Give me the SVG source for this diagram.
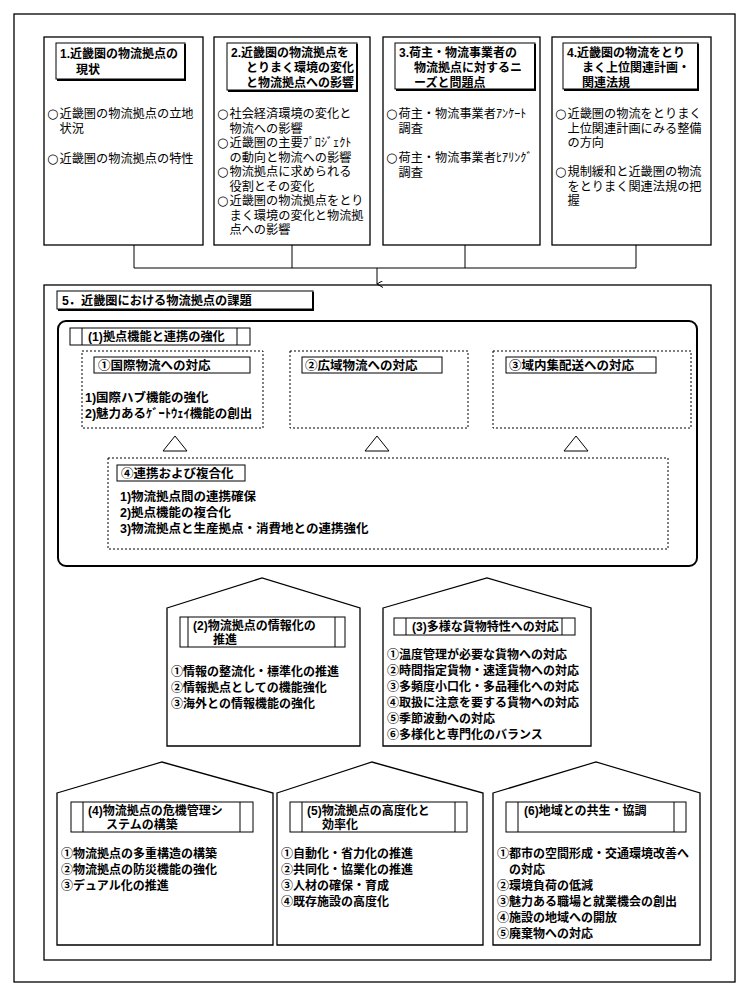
<svg xmlns="http://www.w3.org/2000/svg" width="750" height="997" viewBox="0 0 750 997">
<style>
.fr{fill:none;stroke:#000;stroke-width:1.3}
.th{fill:none;stroke:#000;stroke-width:2}
.dt{fill:none;stroke:#000;stroke-width:1;stroke-dasharray:2 2}
.ln{fill:none;stroke:#000;stroke-width:1}
.t{font-family:"Liberation Sans","Noto Sans CJK JP","Noto Sans CJK SC",sans-serif;font-size:12.2px;fill:#000}
.b{font-weight:bold}
.m{font-size:12.5px}
.h{font-size:12px}
.k{font-size:12px}
.c{font-family:"DejaVu Sans",sans-serif;font-size:13px}
</style>
<defs>
<marker id="ah" markerWidth="7" markerHeight="7" refX="3.5" refY="6" orient="auto" markerUnits="userSpaceOnUse"><path d="M0,0 L3.5,6 L7,0" fill="none" stroke="#000" stroke-width="1"/></marker>
</defs>
<rect width="750" height="997" fill="#fff"/>
<rect x="14" y="14" width="721" height="968" class="fr"/>

<g id="box1">
<rect x="44" y="37" width="159" height="208" class="fr"/>
<rect x="56" y="43" width="129" height="36" class="ln"/>
<path d="M185,44 V80 H57" class="th"/>
<text class="t b k"><tspan x="60" y="58">1.近畿圏の物流拠点の</tspan><tspan x="76" y="74">現状</tspan></text>
<text class="t"><tspan class="c" x="47" y="118">○</tspan><tspan x="59.5">近畿圏の物流拠点の立地</tspan><tspan x="59.5" y="132.5">状況</tspan><tspan class="c" x="47" y="163">○</tspan><tspan x="59.5">近畿圏の物流拠点の特性</tspan></text>
</g>

<g id="box2">
<rect x="214" y="37" width="156" height="208" class="fr"/>
<rect x="227" y="43" width="130" height="47" class="ln"/>
<path d="M357,44 V91 H228" class="th"/>
<text class="t b k"><tspan x="231" y="57">2.近畿圏の物流拠点を</tspan><tspan x="246" y="72">とりまく環境の変化</tspan><tspan x="246" y="86.5">と物流拠点への影響</tspan></text>
<text class="t"><tspan class="c" x="217" y="118">○</tspan><tspan x="229.5">社会経済環境の変化と</tspan><tspan x="229.5" y="132.5">物流への影響</tspan><tspan class="c" x="217" y="147">○</tspan><tspan x="229.5">近畿圏の主要ﾌﾟﾛｼﾞｪｸﾄ</tspan><tspan x="229.5" y="161.5">の動向と物流への影響</tspan><tspan class="c" x="217" y="176">○</tspan><tspan x="229.5">物流拠点に求められる</tspan><tspan x="229.5" y="190.5">役割とその変化</tspan><tspan class="c" x="217" y="205">○</tspan><tspan x="229.5">近畿圏の物流拠点をとり</tspan><tspan x="229.5" y="219.5">まく環境の変化と物流拠</tspan><tspan x="229.5" y="234">点への影響</tspan></text>
</g>

<g id="box3">
<rect x="383" y="37" width="157" height="208" class="fr"/>
<rect x="395" y="43" width="140" height="46" class="ln"/>
<path d="M535,44 V90 H396" class="th"/>
<text class="t b k"><tspan x="399" y="57">3.荷主・物流事業者の</tspan><tspan x="414" y="72">物流拠点に対するニ</tspan><tspan x="414" y="86.5">ーズと問題点</tspan></text>
<text class="t"><tspan class="c" x="386" y="118">○</tspan><tspan x="398.5">荷主・物流事業者ｱﾝｹｰﾄ</tspan><tspan x="398.5" y="132.5">調査</tspan><tspan class="c" x="386" y="162">○</tspan><tspan x="398.5">荷主・物流事業者ﾋｱﾘﾝｸﾞ</tspan><tspan x="398.5" y="176.5">調査</tspan></text>
</g>

<g id="box4">
<rect x="552" y="37" width="159" height="208" class="fr"/>
<rect x="563" y="43" width="135" height="46" class="ln"/>
<path d="M698,44 V90 H564" class="th"/>
<text class="t b k"><tspan x="567" y="57">4.近畿圏の物流をとり</tspan><tspan x="582" y="72">まく上位関連計画・</tspan><tspan x="582" y="86.5">関連法規</tspan></text>
<text class="t"><tspan class="c" x="555" y="118">○</tspan><tspan x="567.5">近畿圏の物流をとりまく</tspan><tspan x="567.5" y="132.5">上位関連計画にみる整備</tspan><tspan x="567.5" y="147">の方向</tspan><tspan class="c" x="555" y="176">○</tspan><tspan x="567.5">規制緩和と近畿圏の物流</tspan><tspan x="567.5" y="190.5">をとりまく関連法規の把</tspan><tspan x="567.5" y="205">握</tspan></text>
</g>

<g id="connectors">
<path d="M134,245 V268 M292,245 V268 M465,245 V268 M636,245 V268 M134,268 H636" class="ln"/>
<path d="M377,268 V284" class="ln" marker-end="url(#ah)"/>
</g>

<g id="sec5">
<rect x="44" y="285" width="667" height="675" class="fr"/>
<rect x="57" y="291" width="256" height="18" class="ln"/>
<path d="M313,292 V310 H58" class="th"/>
<text class="t b" x="62" y="305">5．近畿圏における物流拠点の課題</text>
</g>

<g id="sec1">
<rect x="58" y="321" width="639" height="245" rx="8" class="th"/>
<rect x="70" y="328" width="180" height="17" class="ln"/>
<path d="M82,328 V345 M237,328 V345" class="ln"/>
<text class="t b" x="88" y="341">(1)拠点機能と連携の強化</text>
</g>

<g id="s1a">
<rect x="82" y="351" width="181" height="77" class="dt"/>
<rect x="94" y="357" width="156" height="16" class="ln"/>
<text class="t b m" x="98" y="369.5">①国際物流への対応</text>
<text class="t b m"><tspan x="85" y="402">1)国際ハブ機能の強化</tspan><tspan x="85" y="418">2)魅力あるｹﾞｰﾄｳｪｲ機能の創出</tspan></text>
</g>
<g id="s1b">
<rect x="290" y="351" width="178" height="77" class="dt"/>
<rect x="302" y="357" width="140" height="16" class="ln"/>
<text class="t b m" x="305" y="369.5">②広域物流への対応</text>
</g>
<g id="s1c">
<rect x="493" y="351" width="198" height="77" class="dt"/>
<rect x="506" y="357" width="150" height="16" class="ln"/>
<text class="t b m" x="509" y="369.5">③域内集配送への対応</text>
</g>
<g id="triangles">
<path d="M175,436 L187,451 L163,451 Z M377,436 L389,451 L365,451 Z M576,436 L588,451 L564,451 Z" class="ln"/>
</g>
<g id="s1d">
<rect x="108" y="458" width="560" height="91" class="dt"/>
<rect x="117" y="465" width="128" height="16" class="ln"/>
<text class="t b m" x="121" y="477.5">④連携および複合化</text>
<text class="t b m"><tspan x="120" y="501">1)物流拠点間の連携確保</tspan><tspan x="120" y="517">2)拠点機能の複合化</tspan><tspan x="120" y="533">3)物流拠点と生産拠点・消費地との連携強化</tspan></text>
</g>

<g id="h2">
<path d="M167,608 L262,578 L360,608 V746 H167 Z" class="fr"/>
<rect x="180" y="617" width="165" height="30" class="ln"/>
<path d="M188,617 V647 M335,617 V647" class="ln"/>
<text class="t b h"><tspan x="193" y="630">(2)物流拠点の情報化の</tspan><tspan x="213" y="644">推進</tspan></text>
<text class="t b h"><tspan x="171" y="676">①情報の整流化・標準化の推進</tspan><tspan x="171" y="692">②情報拠点としての機能強化</tspan><tspan x="171" y="708">③海外との情報機能の強化</tspan></text>
</g>

<g id="h3">
<path d="M383,608 L487,578 L591,608 V746 H383 Z" class="fr"/>
<rect x="394" y="618" width="181" height="17" class="ln"/>
<path d="M406,618 V635 M562,618 V635" class="ln"/>
<text class="t b h" x="412" y="631">(3)多様な貨物特性への対応</text>
<text class="t b h"><tspan x="387" y="659">①温度管理が必要な貨物への対応</tspan><tspan x="387" y="675">②時間指定貨物・速達貨物への対応</tspan><tspan x="387" y="691">③多頻度小口化・多品種化への対応</tspan><tspan x="387" y="707">④取扱に注意を要する貨物への対応</tspan><tspan x="387" y="723">⑤季節波動への対応</tspan><tspan x="387" y="739">⑥多様化と専門化のバランス</tspan></text>
</g>

<g id="h4">
<path d="M57,793 L162,762 L273,793 V945 H57 Z" class="fr"/>
<rect x="71" y="802" width="182" height="30" class="ln"/>
<path d="M83,802 V832 M240,802 V832" class="ln"/>
<text class="t b h"><tspan x="88" y="815">(4)物流拠点の危機管理シ</tspan><tspan x="106" y="829">ステムの構築</tspan></text>
<text class="t b h"><tspan x="61" y="858">①物流拠点の多重構造の構築</tspan><tspan x="61" y="874">②物流拠点の防災機能の強化</tspan><tspan x="61" y="890">③デュアル化の推進</tspan></text>
</g>

<g id="h5">
<path d="M277,793 L372,762 L483,793 V945 H277 Z" class="fr"/>
<rect x="290" y="802" width="177" height="30" class="ln"/>
<path d="M302,802 V832 M455,802 V832" class="ln"/>
<text class="t b h"><tspan x="307" y="815">(5)物流拠点の高度化と</tspan><tspan x="322" y="829">効率化</tspan></text>
<text class="t b h"><tspan x="281" y="858">①自動化・省力化の推進</tspan><tspan x="281" y="874">②共同化・協業化の推進</tspan><tspan x="281" y="890">③人材の確保・育成</tspan><tspan x="281" y="906">④既存施設の高度化</tspan></text>
</g>

<g id="h6">
<path d="M493,793 L596,762 L700,793 V945 H493 Z" class="fr"/>
<rect x="506" y="802" width="180" height="30" class="ln"/>
<path d="M518,802 V832 M674,802 V832" class="ln"/>
<text class="t b h" x="524" y="815">(6)地域との共生・協調</text>
<text class="t b h"><tspan x="497" y="858">①都市の空間形成・交通環境改善へ</tspan><tspan x="509" y="874">の対応</tspan><tspan x="497" y="890">②環境負荷の低減</tspan><tspan x="497" y="906">③魅力ある職場と就業機会の創出</tspan><tspan x="497" y="922">④施設の地域への開放</tspan><tspan x="497" y="938">⑤廃棄物への対応</tspan></text>
</g>
</svg>
